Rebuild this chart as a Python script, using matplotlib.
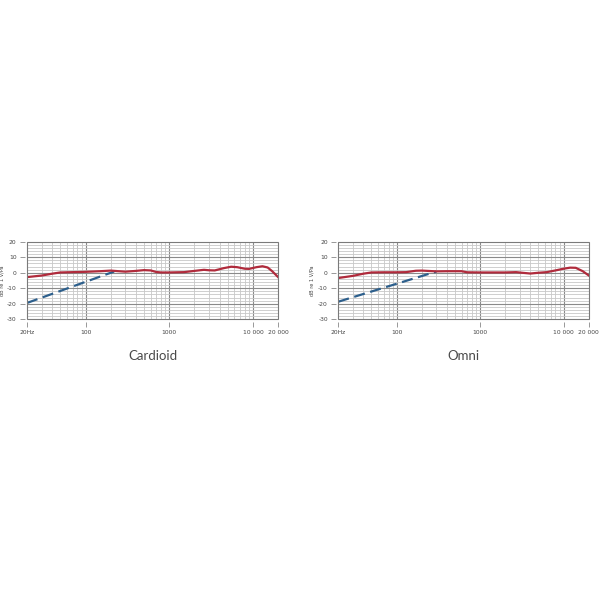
import matplotlib
matplotlib.use("Agg")
import matplotlib.pyplot as plt
from matplotlib.ticker import FixedLocator, NullFormatter
from matplotlib.patches import Rectangle

plt.rcParams["axes.unicode_minus"] = False

# ---- data ----
card_f = [20, 30, 40, 50, 70, 100, 150, 200, 250, 300, 400, 500, 600, 700, 800, 1000,
          1500, 2000, 2600, 3000, 3500, 4500, 5500, 6500, 8000, 9000, 11000, 13000,
          15000, 17000, 20000]
card_db = [-2.8, -1.8, -0.6, 0.2, 0.4, 0.6, 1.0, 1.4, 1.0, 0.7, 1.2, 1.7, 1.5, 0.5, 0.2, 0.2,
           0.4, 1.2, 1.9, 1.6, 1.5, 3.0, 3.9, 3.6, 2.6, 2.5, 3.6, 4.2,
           3.4, 1.0, -2.8]
card_cut_f = [20, 220]
card_cut_db = [-19.5, 0.8]

omni_f = [20, 30, 40, 50, 70, 100, 130, 170, 200, 300, 400, 500, 600, 700, 1000,
          2000, 2700, 3200, 4000, 5000, 6300, 8000, 10000, 12000, 14000, 17000, 20000]
omni_db = [-3.4, -2.0, -0.6, 0.2, 0.3, 0.3, 0.4, 1.3, 1.4, 0.9, 1.0, 1.0, 1.0, 0.3, 0.2,
           0.2, 0.4, 0.0, -0.5, 0.0, 0.4, 1.5, 2.6, 3.3, 3.2, 1.0, -1.7]
omni_cut_f = [20, 300]
omni_cut_db = [-18.7, 0.8]

titles = ["Cardioid", "Omni"]
xtick_vals = [20, 100, 1000, 10000, 20000]
xtick_labels = ["20Hz", "100", "1000", "10 000", "20 000"]
ytick_vals = [-30, -20, -10, 0, 10, 20]
ylabel = "dB re 1 V/Pa"

RED = "#b02b3c"
BLUE = "#2d5f8c"
GRID_MINOR = "#c8c8c8"
GRID_MAJOR = "#8a8a8a"
TXT = "#444444"

fig = plt.figure(figsize=(6, 6), dpi=100)
fig.patch.set_facecolor("white")

panels = [
    (card_f, card_db, card_cut_f, card_cut_db, [0.045, 0.468, 0.4185, 0.129], -0.088),
    (omni_f, omni_db, omni_cut_f, omni_cut_db, [0.5638, 0.468, 0.4173, 0.129], -0.094),
]

minor_x = [m * 10 ** e for e in range(1, 5) for m in range(2, 10)]
minor_x = [v for v in minor_x if 20 <= v <= 20000]
minor_y = [v for v in range(-30, 21, 2) if v % 10 != 0]

for i, (f, db, cf, cdb, rect, ylx) in enumerate(panels):
    ax = fig.add_axes(rect)
    ax.set_xscale("log")
    ax.set_xlim(20, 20000)
    ax.set_ylim(-30, 20)
    for v in minor_x:
        ax.axvline(v, color=GRID_MINOR, lw=0.6, zorder=0)
    for v in [100, 1000, 10000]:
        ax.axvline(v, color=GRID_MAJOR, lw=0.8, zorder=0)
    for v in minor_y:
        ax.axhline(v, color=GRID_MINOR, lw=0.6, zorder=0)
    for v in [-20, -10, 0, 10]:
        ax.axhline(v, color=GRID_MAJOR, lw=0.8, zorder=0)

    ax.plot(cf, cdb, color=BLUE, lw=1.6, ls=(0, (5, 2.5)), zorder=3)
    ax.plot(f, db, color=RED, lw=1.6, zorder=4, solid_joinstyle="round")

    # ticks detached from the frame by a small gap
    for side in ["left", "bottom"]:
        ax.spines[side].set_position(("outward", 1.8))
    for s in ax.spines.values():
        s.set_color("none")
    ax.add_patch(Rectangle((0, 0), 1, 1, transform=ax.transAxes, fill=False,
                           edgecolor="#7a7a7a", lw=0.8, zorder=5, clip_on=False))

    ax.xaxis.set_major_locator(FixedLocator(xtick_vals))
    ax.set_xticklabels(xtick_labels)
    ax.xaxis.set_minor_formatter(NullFormatter())
    ax.xaxis.set_minor_locator(FixedLocator([]))
    ax.set_yticks(ytick_vals)
    ax.tick_params(axis="both", direction="out", length=3.5, width=0.6,
                   color="#888888", labelsize=4.3, labelcolor=TXT, pad=2.2)
    ax.set_ylabel(ylabel, fontsize=3.6, color=TXT)
    ax.yaxis.set_label_coords(ylx, 0.5)
    pos = ax.get_position()
    fig.text(pos.x0 + pos.width / 2, 1 - 356 / 600, titles[i], ha="center", va="center",
             fontsize=9.5, color="#4a4a4a", family="Lato", weight="normal")

fig.savefig("out.png", dpi=100, facecolor="white")
